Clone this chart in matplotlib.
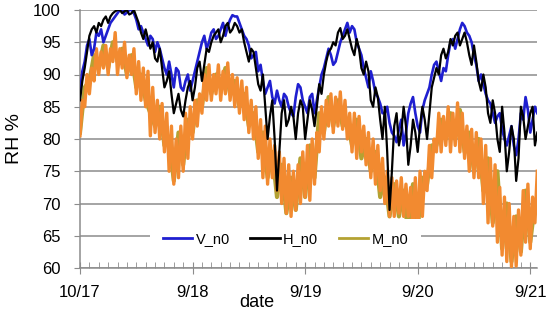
import numpy as np
import matplotlib.pyplot as plt

# readings on the hour, hour 0 .. 97 from the start of the record
v_n0 = [87, 92, 95.5, 94, 96, 95, 97, 98.5, 99.5, 100, 99.6, 100, 98.5, 97.5, 95.5, 96, 93.5, 94, 91, 92, 88, 90.5, 87.5, 90,
        89, 92, 95, 94, 96.5, 95.5, 97, 96, 98.5, 99, 98, 96, 94.5, 93, 90.5, 89, 88, 86.5, 87.5, 85, 86.5, 84, 86.5, 88,
        85, 86.5, 84, 88, 91, 94, 91.5, 93.5, 96, 98, 97.5, 95, 93, 89.5, 90.5, 87, 85.5, 84, 82.5, 80.5, 81.5, 79, 84, 86.5,
        82, 84.5, 87, 90, 92, 89, 90.5, 95, 94, 97, 97.5, 96, 93, 89, 88.5, 86, 84, 83.5, 81.5, 79, 82, 77.5, 84, 86.5, 81, 85]
# readings at half past
v_n0_half = [90.5, 94.5, 93, 96.5, 97, 96, 98, 99, 100, 99.3, 100, 99.5, 97, 96.5, 94.5, 95.5, 95, 92.5, 90, 90, 91, 88, 89, 87.5,
             90.5, 93.5, 96, 95, 97, 96, 98, 97.5, 99.2, 99, 97, 95.5, 92.5, 93.5, 91.5, 87, 89, 85.5, 86, 87, 85, 83.5, 88.5, 86,
             84, 87, 86, 90, 92.5, 93, 92, 95, 97, 96.5, 97, 94, 91, 88, 89, 86.5, 84, 85, 81, 79.5, 83, 81, 85.5, 84,
             81, 86, 88, 91.5, 90.5, 91, 93, 95.5, 95.5, 98, 96.5, 95, 91.5, 90, 87, 85.5, 82.5, 84, 80, 80.5, 79, 80, 83, 84.5, 83, 84]

h_n0 = [86, 91, 96, 97.5, 98, 98.5, 98, 99.5, 100, 99.5, 100, 99.5, 99, 96.5, 97, 94, 92.5, 94, 88, 90.5, 84, 87, 83.5, 88,
        86, 91, 89, 94, 95, 96.5, 95, 97.5, 96.5, 98, 96.5, 95, 92, 93.5, 88.5, 90, 80, 86, 72, 84, 82, 85, 80, 86,
        80, 86, 82, 88.5, 90, 93.5, 95, 96.5, 95.5, 97, 94, 95.5, 91, 92, 86, 88, 83, 85, 69, 82, 79, 85, 76, 83,
        78, 85, 80, 88, 91, 93, 92.5, 95.5, 96, 94.5, 96.5, 93, 94.5, 89, 90, 84, 86, 80, 85, 75, 82, 73.5, 85, 80, 84, 79]
h_n0_half = [89, 93.5, 97, 96.5, 97.5, 99, 99, 99.8, 100, 99.8, 99.3, 100, 98, 95.5, 95.5, 95, 92, 91, 89, 87, 85.5, 84.5, 86, 89,
             88, 92, 91.5, 93.5, 96, 97, 96, 98, 97, 97.5, 97, 93.5, 94, 91, 87.5, 85, 83.5, 80, 78, 86, 83, 83.5, 84, 85,
             83, 84.5, 85, 87, 92, 94, 94.5, 97.2, 96, 95.5, 93, 94, 90, 90.5, 85, 86.5, 80, 78, 75, 84, 81, 82, 79, 81,
             82, 83, 84, 89.5, 90, 94, 93.5, 94.5, 96.5, 95.5, 95, 91.5, 92, 87.5, 88, 82.5, 84, 78, 81, 78, 80, 77, 83.5, 82, 85, 81]

m_n0 = [81, 88, 89, 93, 91, 94.5, 91, 95, 92, 94, 90, 93, 88, 90, 86, 84, 82, 85, 79, 80, 73.5, 81, 76, 83,
        81, 86, 85, 91, 87, 90, 88, 91, 87, 89, 85, 87, 82, 84, 78, 81, 74, 78, 71, 76, 68.5, 74, 69, 77,
        71, 79, 74, 84, 81, 86.5, 82, 86, 82, 83, 79, 83, 77, 80, 75, 78, 71, 74, 68, 73, 68, 72, 65, 73,
        66, 74, 73, 79, 79, 83, 80, 84, 80, 84.5, 78, 81, 75, 80, 72, 77, 67, 75, 63, 70, 61, 68, 62.5, 72, 64, 70]

# fourth sensor (orange, not in legend): hourly low / high of its fast swings
o_lo = [80.5, 85, 87, 89, 90, 91, 90, 92, 90, 91, 89.5, 90, 87, 86, 85, 80.5, 81, 80, 78, 75, 73, 74, 75, 77,
        80, 82, 84, 86, 86, 87, 86, 87, 86, 85, 84, 83, 81, 80, 77, 74, 73, 74, 72, 70, 68.5, 68, 69, 70,
        71, 70.5, 73, 78, 80, 82, 81, 82, 81.5, 80, 78, 77, 78, 76, 74, 73, 72, 70, 68, 68, 68.5, 68, 68, 66,
        65, 68, 72, 74, 78, 78, 79, 78, 79, 78, 77, 75, 74, 74, 70, 67, 66.5, 64, 62, 61, 60.2, 60.3, 62, 64, 63, 67]
o_hi = [86, 90, 91, 94, 93.5, 94.5, 94, 96.5, 94, 95, 93, 94, 92, 91, 90.5, 88, 86, 85.5, 84, 82, 80, 82, 84, 85,
        86, 87, 90, 91.5, 90, 91.5, 90.5, 91.8, 90, 89.5, 89, 88, 86, 85, 83, 82, 80, 79, 78, 77, 76, 75, 76, 78,
        79, 80, 81, 85, 86, 87, 86.5, 87.3, 86, 84, 84, 83.5, 82, 81, 80, 79, 77, 75, 74, 73.5, 74, 73, 72.5, 74,
        75, 75, 79, 80, 84, 83.5, 85, 84, 85.6, 84, 82, 81.5, 81, 80, 79, 77, 76, 72.5, 71, 70, 68, 69, 72, 73, 71, 75]

day_labels = ['10/17', '9/18', '9/19', '9/20', '9/21']

hours = np.arange(len(v_n0))
days = hours / 24.0
days2 = np.column_stack([days, days + 0.5 / 24]).ravel()


def weave(a, b):
    # alternate the on-the-hour and half-past readings
    return np.column_stack([a, b]).ravel()


plt.rcParams['font.family'] = ['Liberation Sans', 'DejaVu Sans']

fig = plt.figure(figsize=(5.5, 3.21), dpi=100)
ax = fig.add_axes([80 / 550, 1 - 268 / 321, 457 / 550, 258 / 321])

ax.plot(days, m_n0, color='#b4a232', lw=3.0, label='M_n0', zorder=2)
ax.plot(days2, weave(o_lo, o_hi), color='#f28a30', lw=2.4, zorder=3)
ax.plot(days2, weave(v_n0, v_n0_half), color='#1f1fd0', lw=1.9, label='V_n0', zorder=4)
ax.plot(days2, weave(h_n0, h_n0_half), color='#000000', lw=1.6, label='H_n0', zorder=5)

ax.set_xlim(0, 4.06)
ax.set_ylim(60, 100)
ax.set_yticks(np.arange(60, 101, 5))
ax.set_xticks(np.arange(5))
ax.set_xticklabels(day_labels)
ax.set_xticks(np.arange(0, 4.06, 1 / 12), minor=True)

ax.grid(axis='y', color='#8c8c8c', lw=1.1, zorder=0)
ax.set_axisbelow(True)
for s in ['top', 'right']:
    ax.spines[s].set_visible(False)
for s in ['left', 'bottom']:
    ax.spines[s].set_color('#8c8c8c')
    ax.spines[s].set_linewidth(1.1)

ax.tick_params(axis='y', length=4, color='#8c8c8c', labelsize=12, pad=10)
ax.tick_params(axis='x', which='major', direction='inout', length=8, color='#8c8c8c', labelsize=12, pad=8)
ax.tick_params(axis='x', which='minor', direction='in', length=4, color='#8c8c8c')

ax.set_ylabel('RH %', fontsize=14)
ax.yaxis.set_label_coords(-0.125, 0.5)
ax.set_xlabel('date', fontsize=13)
ax.xaxis.set_label_coords(0.387, -0.1)

handles, labels = ax.get_legend_handles_labels()
order = [1, 2, 0]
leg = ax.legend([handles[i] for i in order], [labels[i] for i in order], ncol=3,
                loc='center', bbox_to_anchor=(0.45, 0.112), fontsize=10.5,
                frameon=True, facecolor='white', edgecolor='none', framealpha=1,
                handlelength=2.0, handletextpad=0.25, columnspacing=1.4, borderpad=0.9)
leg.get_frame().set_boxstyle('square', pad=0)
leg.set_zorder(6)
for line in leg.get_lines():
    line.set_linewidth(2.0)

fig.savefig('out.png', dpi=100)
